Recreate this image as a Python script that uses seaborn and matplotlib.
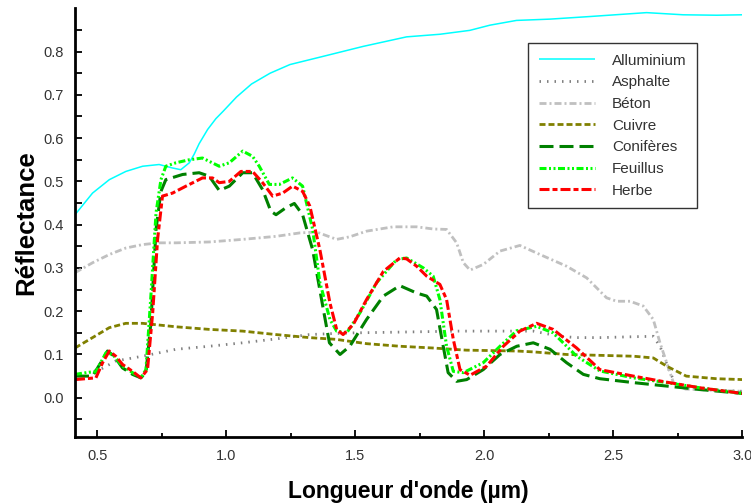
import matplotlib
matplotlib.use("Agg")
import matplotlib.pyplot as plt
import seaborn as sns
import pandas as pd

# ---------------- data ----------------
series_names = ["Alluminium", "Asphalte", "Béton", "Cuivre", "Conifères", "Feuillus", "Herbe"]

alu_x = [0.414, 0.482, 0.547, 0.611, 0.676, 0.74, 0.792, 0.824, 0.857, 0.876, 0.895, 0.928, 0.96, 0.988,
         1.04, 1.098, 1.17, 1.247, 1.376, 1.531, 1.699, 1.828, 1.944, 2.022, 2.125, 2.255, 2.41, 2.629,
         2.771, 2.901, 3.0]
alu_y = [0.423, 0.473, 0.504, 0.523, 0.535, 0.539, 0.531, 0.527, 0.543, 0.563, 0.587, 0.620, 0.645, 0.662,
         0.695, 0.725, 0.750, 0.770, 0.789, 0.812, 0.834, 0.840, 0.849, 0.861, 0.872, 0.875, 0.881, 0.890,
         0.885, 0.884, 0.885]

asp_x = [0.49, 0.514, 0.572, 0.676, 0.805, 0.934, 1.064, 1.193, 1.322, 1.40, 1.50, 1.70, 1.90, 2.061,
         2.19, 2.293, 2.358, 2.45, 2.578, 2.655, 2.681, 2.72, 2.746, 2.836, 3.0]
asp_y = [0.062, 0.066, 0.085, 0.096, 0.112, 0.119, 0.127, 0.136, 0.146, 0.148, 0.150, 0.152, 0.154, 0.154,
         0.154, 0.142, 0.139, 0.139, 0.141, 0.142, 0.119, 0.058, 0.027, 0.019, 0.015]

bet_x = [0.414, 0.482, 0.547, 0.611, 0.676, 0.74, 0.805, 0.934, 1.064, 1.193, 1.286, 1.35, 1.428, 1.479,
         1.544, 1.647, 1.738, 1.802, 1.854, 1.893, 1.919, 1.945, 1.996, 2.061, 2.138, 2.216, 2.319, 2.397,
         2.474, 2.513, 2.565, 2.616, 2.655, 2.681, 2.707, 2.733, 2.78, 2.9, 3.0]
bet_y = [0.289, 0.312, 0.331, 0.346, 0.354, 0.358, 0.358, 0.360, 0.366, 0.373, 0.381, 0.383, 0.366, 0.372,
         0.385, 0.395, 0.395, 0.390, 0.389, 0.358, 0.312, 0.295, 0.308, 0.339, 0.352, 0.331, 0.304, 0.277,
         0.231, 0.223, 0.223, 0.212, 0.181, 0.127, 0.081, 0.035, 0.020, 0.017, 0.015]

cui_x = [0.414, 0.482, 0.547, 0.611, 0.676, 0.805, 0.934, 1.064, 1.193, 1.322, 1.425, 1.544, 1.673, 1.80,
         1.93, 2.126, 2.19, 2.319, 2.448, 2.578, 2.655, 2.707, 2.783, 2.9, 3.0]
cui_y = [0.115, 0.139, 0.162, 0.172, 0.172, 0.164, 0.158, 0.154, 0.146, 0.139, 0.135, 0.125, 0.119, 0.115,
         0.110, 0.108, 0.106, 0.100, 0.098, 0.096, 0.092, 0.073, 0.050, 0.044, 0.042]

con_x = [0.414, 0.482, 0.514, 0.54, 0.566, 0.598, 0.637, 0.669, 0.689, 0.708, 0.728, 0.747, 0.766, 0.831,
         0.895, 0.934, 0.973, 1.012, 1.064, 1.102, 1.141, 1.173, 1.193, 1.231, 1.264, 1.296, 1.335, 1.374,
         1.40, 1.441, 1.479, 1.544, 1.609, 1.673, 1.738, 1.777, 1.815, 1.841, 1.86, 1.893, 1.932, 1.996,
         2.061, 2.126, 2.19, 2.255, 2.319, 2.384, 2.448, 2.578, 2.707, 2.836, 3.0]
con_y = [0.05, 0.05, 0.081, 0.108, 0.096, 0.069, 0.054, 0.046, 0.058, 0.173, 0.389, 0.477, 0.504, 0.516,
         0.52, 0.512, 0.479, 0.489, 0.52, 0.52, 0.481, 0.431, 0.423, 0.439, 0.449, 0.423, 0.342, 0.212,
         0.127, 0.100, 0.119, 0.181, 0.235, 0.259, 0.242, 0.235, 0.204, 0.119, 0.058, 0.038, 0.042, 0.065,
         0.100, 0.119, 0.127, 0.112, 0.081, 0.054, 0.044, 0.035, 0.027, 0.019, 0.010]

feu_x = [0.414, 0.469, 0.495, 0.534, 0.56, 0.598, 0.637, 0.669, 0.689, 0.708, 0.728, 0.747, 0.766, 0.805,
         0.857, 0.908, 0.973, 1.012, 1.064, 1.102, 1.128, 1.167, 1.206, 1.257, 1.296, 1.335, 1.363, 1.402,
         1.428, 1.467, 1.518, 1.583, 1.66, 1.699, 1.764, 1.802, 1.828, 1.854, 1.88, 1.919, 1.996, 2.061,
         2.126, 2.203, 2.267, 2.358, 2.448, 2.578, 2.707, 2.836, 3.0]
feu_y = [0.054, 0.059, 0.060, 0.104, 0.100, 0.073, 0.058, 0.046, 0.065, 0.235, 0.427, 0.504, 0.535, 0.543,
         0.550, 0.554, 0.535, 0.543, 0.570, 0.558, 0.535, 0.493, 0.493, 0.508, 0.489, 0.389, 0.266, 0.181,
         0.154, 0.150, 0.196, 0.266, 0.319, 0.323, 0.300, 0.281, 0.227, 0.119, 0.061, 0.058, 0.081, 0.119,
         0.155, 0.165, 0.150, 0.096, 0.062, 0.046, 0.035, 0.023, 0.010]

her_x = [0.414, 0.495, 0.521, 0.547, 0.572, 0.598, 0.637, 0.669, 0.695, 0.715, 0.734, 0.753, 0.792, 0.844,
         0.908, 0.947, 0.973, 1.012, 1.057, 1.102, 1.141, 1.18, 1.219, 1.257, 1.296, 1.324, 1.363, 1.402,
         1.428, 1.453, 1.492, 1.544, 1.609, 1.673, 1.699, 1.738, 1.777, 1.828, 1.854, 1.88, 1.906, 1.945,
         2.009, 2.074, 2.138, 2.203, 2.267, 2.358, 2.448, 2.578, 2.707, 2.836, 3.0]
her_y = [0.042, 0.046, 0.081, 0.108, 0.096, 0.077, 0.061, 0.046, 0.065, 0.196, 0.366, 0.466, 0.473, 0.489,
         0.508, 0.508, 0.497, 0.500, 0.523, 0.523, 0.497, 0.466, 0.473, 0.489, 0.477, 0.443, 0.342, 0.219,
         0.158, 0.146, 0.169, 0.227, 0.292, 0.323, 0.321, 0.304, 0.281, 0.262, 0.227, 0.135, 0.065, 0.052,
         0.073, 0.119, 0.154, 0.172, 0.158, 0.115, 0.065, 0.050, 0.036, 0.023, 0.010]

x_ticks = [0.5, 1.0, 1.5, 2.0, 2.5, 3.0]
y_ticks = [0.0, 0.1, 0.2, 0.3, 0.4, 0.5, 0.6, 0.7, 0.8]
x_label = "Longueur d'onde (µm)"
y_label = "Réflectance"

# ---------------- style ----------------
sns.set_style("ticks")
plt.rcParams["font.family"] = ["Liberation Sans", "DejaVu Sans"]
plt.rcParams["lines.scale_dashes"] = False

PX = 72.0 / 100.0  # points per pixel at dpi 100

styles = {
    "Alluminium": dict(color="#00ffff", lw=1.1, dash=None),
    "Asphalte": dict(color="#808080", lw=2.0, dash=[1.5, 6.0]),
    "Béton": dict(color="#c0c0c0", lw=2.0, dash=[7, 3, 2, 3]),
    "Cuivre": dict(color="#808000", lw=2.0, dash=[6, 3]),
    "Conifères": dict(color="#008000", lw=2.2, dash=[14, 6]),
    "Feuillus": dict(color="#00ff00", lw=2.2, dash=[7, 2.5, 2, 2.5, 2, 2.5]),
    "Herbe": dict(color="#ff0000", lw=2.2, dash=[10, 3, 5, 3]),
}

data = {
    "Alluminium": (alu_x, alu_y),
    "Asphalte": (asp_x, asp_y),
    "Béton": (bet_x, bet_y),
    "Cuivre": (cui_x, cui_y),
    "Conifères": (con_x, con_y),
    "Feuillus": (feu_x, feu_y),
    "Herbe": (her_x, her_y),
}

fig = plt.figure(figsize=(7.51, 5.04), dpi=100)
ax = fig.add_axes([75 / 751, 1 - 436.7 / 504, (742.3 - 75) / 751, (436.7 - 8.3) / 504])

for name in series_names:
    xs, ys = data[name]
    df = pd.DataFrame({"x": xs, "y": ys})
    st = styles[name]
    sns.lineplot(data=df, x="x", y="y", ax=ax, color=st["color"], linewidth=st["lw"],
                 estimator=None, sort=False, label=name)
    line = ax.lines[-1]
    if st["dash"] is not None:
        line.set_dashes([d * PX for d in st["dash"]])
    line.set_solid_capstyle("butt")
    line.set_dash_capstyle("butt")

ax.set_xlim(0.414, 3.0)
ax.set_ylim(-0.09, 0.9)
ax.set_xticks(x_ticks)
ax.set_xticks([0.75, 1.25, 1.75, 2.25, 2.75], minor=True)
ax.set_yticks(y_ticks)
ax.set_yticks([-0.05, 0.05, 0.15, 0.25, 0.35, 0.45, 0.55, 0.65, 0.75, 0.85], minor=True)
ax.set_xticklabels([f"{v:.1f}" for v in x_ticks])
ax.set_yticklabels([f"{v:.1f}" for v in y_ticks])

sns.despine(ax=ax)
for sp in ["left", "bottom"]:
    ax.spines[sp].set_linewidth(2.0)
    ax.spines[sp].set_color("black")

ax.tick_params(axis="both", which="both", direction="in", color="black", width=1.3,
               labelsize=10.5, labelcolor="#333333")
ax.tick_params(axis="y", which="major", length=5, pad=8)
ax.tick_params(axis="y", which="minor", length=5)
ax.tick_params(axis="x", which="major", length=5, pad=9)
ax.tick_params(axis="x", which="minor", length=3)

ax.set_xlabel(x_label, fontsize=16.5, fontweight="bold", color="black", labelpad=12)
ax.set_ylabel(y_label, fontsize=18.5, fontweight="bold", color="black", labelpad=4)

leg = ax.legend(loc="upper left", bbox_to_anchor=((528 - 75) / (742.3 - 75), 1 - (43 - 8.3) / 428.4),
                borderaxespad=0, frameon=True, fancybox=False, fontsize=11,
                handlelength=3.7, handletextpad=1.1, labelspacing=0.5, borderpad=0.7)
leg.get_frame().set_edgecolor("black")
leg.get_frame().set_linewidth(1.0)
for t in leg.get_texts():
    t.set_color("#333333")

fig.savefig("out.png", dpi=100, facecolor="white")
